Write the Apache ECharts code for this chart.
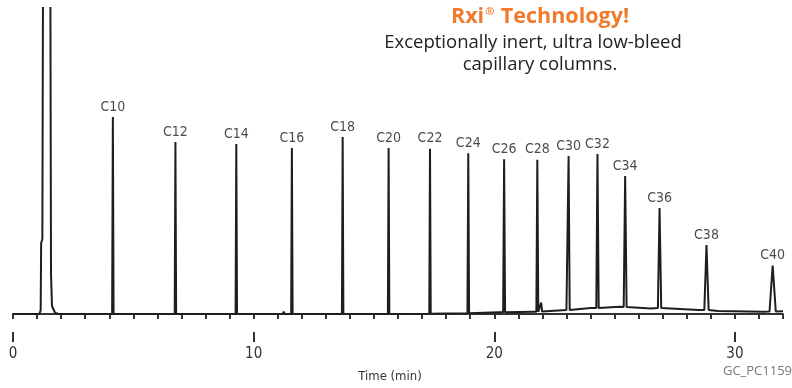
<!DOCTYPE html>
<html>
<head>
<meta charset="utf-8">
<script src="https://cdn.jsdelivr.net/npm/echarts@6/dist/echarts.min.js"></script>
<style>
html,body{margin:0;padding:0;background:#fff;}
#chart{width:792px;height:388px;}
</style>
</head>
<body>
<div id="chart"></div>
<script>
// ---- data ----
const peakLabels = ['C10','C12','C14','C16','C18','C20','C22','C24','C26','C28','C30','C32','C34','C36','C38','C40'];
const peakTimes  = [4.15, 6.75, 9.28, 11.59, 13.70, 15.61, 17.33, 18.92, 20.41, 21.79, 23.09, 24.29, 25.44, 26.87, 28.82, 31.57];
const peakHeights = [197, 172, 170, 166, 177, 166, 165, 160, 153, 152, 154, 154, 131, 100, 65, 46]; // apex above zero
const peakBases  = [0, 0, 0, 0, 0, 0, 0.3, 0.7, 1.7, 2.3, 4, 6, 7, 6, 4, 2.5];
const peakHalfWidths = [0.03, 0.03, 0.03, 0.03, 0.03, 0.03, 0.03, 0.035, 0.04, 0.04, 0.045, 0.05, 0.06, 0.07, 0.09, 0.13];

const minorPeakTimes = [11.25, 13.44, 21.95];
const minorPeakHeights = [2.3, 1.2, 9];
const minorPeakBases = [0, 0, 2.4];

const solventTimes  = [1.10, 1.15, 1.17, 1.22, 1.25, 1.55, 1.58, 1.62, 1.75, 1.90];
const solventLevels = [0, 4, 71, 75, 360, 360, 40, 8, 1, 0];

const baselineTimes  = [0, 2.0, 15, 18, 20.2, 21.6, 23.0, 24.0, 25.2, 26.5, 28.5, 29.3, 31.2, 32];
const baselineLevels = [0, 0, 0, 0.5, 1.7, 2.3, 4, 6, 7.2, 5.5, 4, 3, 2.3, 2.8];

const xTickLabels = [0, 10, 20, 30];

// ---- build trace from the arrays ----
let trace = [];
baselineTimes.forEach((t, i) => trace.push([t, baselineLevels[i]]));
solventTimes.forEach((t, i) => trace.push([t, solventLevels[i]]));
peakTimes.forEach((t, i) => {
  const w = peakHalfWidths[i];
  trace.push([t - w, peakBases[i]]);
  trace.push([t, peakBases[i] + peakHeights[i]]);
  trace.push([t + w, peakBases[i]]);
});
minorPeakTimes.forEach((t, i) => {
  trace.push([t - 0.04, minorPeakBases[i]]);
  trace.push([t, minorPeakBases[i] + minorPeakHeights[i]]);
  trace.push([t + 0.04, minorPeakBases[i]]);
});
trace.sort((a, b) => a[0] - b[0]);

const labelPts = peakTimes.map((t, i) => ({ value: [t, peakBases[i] + peakHeights[i]], name: peakLabels[i] }));

const labelFont = '"Liberation Sans Narrow", "DejaVu Sans Condensed", "Liberation Sans", sans-serif';

const chart = echarts.init(document.getElementById('chart'), null, { renderer: 'canvas' });
chart.setOption({
  animation: false,
  backgroundColor: '#ffffff',
  grid: { left: 13, right: 9, top: 8, bottom: 56 },
  xAxis: [{
    type: 'value', min: 0, max: 32, interval: 1,
    splitLine: { show: false },
    axisLine: { show: true, lineStyle: { color: '#333', width: 2 } },
    axisTick: { show: true, length: 5, lineStyle: { color: '#333', width: 2 } },
    axisLabel: {
      customValues: xTickLabels, margin: 15,
      color: '#333', fontSize: 15, fontFamily: labelFont
    }
  }, {
    type: 'value', min: 0, max: 32, position: 'bottom',
    splitLine: { show: false },
    axisLine: { show: false },
    axisTick: { show: true, customValues: xTickLabels, length: 10, lineStyle: { color: '#333', width: 2 } },
    axisLabel: { show: false }
  }],
  yAxis: { type: 'value', min: -18, max: 306, show: false, splitLine: { show: false } },
  series: [{
    type: 'line', data: trace, xAxisIndex: 0, showSymbol: false, symbol: 'none',
    clip: true,
    lineStyle: { color: '#1e1e1e', width: 2 },
    z: 3
  }, {
    type: 'scatter', data: labelPts, xAxisIndex: 0, symbolSize: 0,
    label: {
      show: true, position: 'top', distance: 3,
      formatter: p => p.name,
      color: '#1a1a1a', fontSize: 14, fontFamily: labelFont
    },
    z: 4
  }],
  graphic: [{
    type: 'text', x: 540, y: 17,
    style: {
      text: '{a|Rxi}{r|®}{a| Technology!}', textAlign: 'center', textVerticalAlign: 'middle',
      rich: {
        a: { fontSize: 21.5, fontWeight: 'bold', fill: '#f07b2e', fontFamily: '"Open Sans", sans-serif' },
        r: { fontSize: 11, fontWeight: 'bold', fill: '#f07b2e', fontFamily: '"Open Sans", sans-serif', padding: [0, 1, 11, 1] }
      }
    }
  }, {
    type: 'text', x: 533, y: 43,
    style: {
      text: 'Exceptionally inert, ultra low-bleed', textAlign: 'center', textVerticalAlign: 'middle',
      fontSize: 18.5, fill: '#222', fontFamily: '"Open Sans", sans-serif'
    }
  }, {
    type: 'text', x: 540, y: 65,
    style: {
      text: 'capillary columns.', textAlign: 'center', textVerticalAlign: 'middle',
      fontSize: 18.5, fill: '#222', fontFamily: '"Open Sans", sans-serif'
    }
  }, {
    type: 'text', x: 390, y: 377,
    style: {
      text: 'Time (min)', textAlign: 'center', textVerticalAlign: 'middle',
      fontSize: 13, fill: '#333', fontFamily: labelFont
    }
  }, {
    type: 'text', x: 792, y: 371,
    style: {
      text: 'GC_PC1159', textAlign: 'right', textVerticalAlign: 'middle',
      fontSize: 13, fill: '#777', fontFamily: '"Open Sans", sans-serif'
    }
  }]
});
</script>
</body>
</html>
